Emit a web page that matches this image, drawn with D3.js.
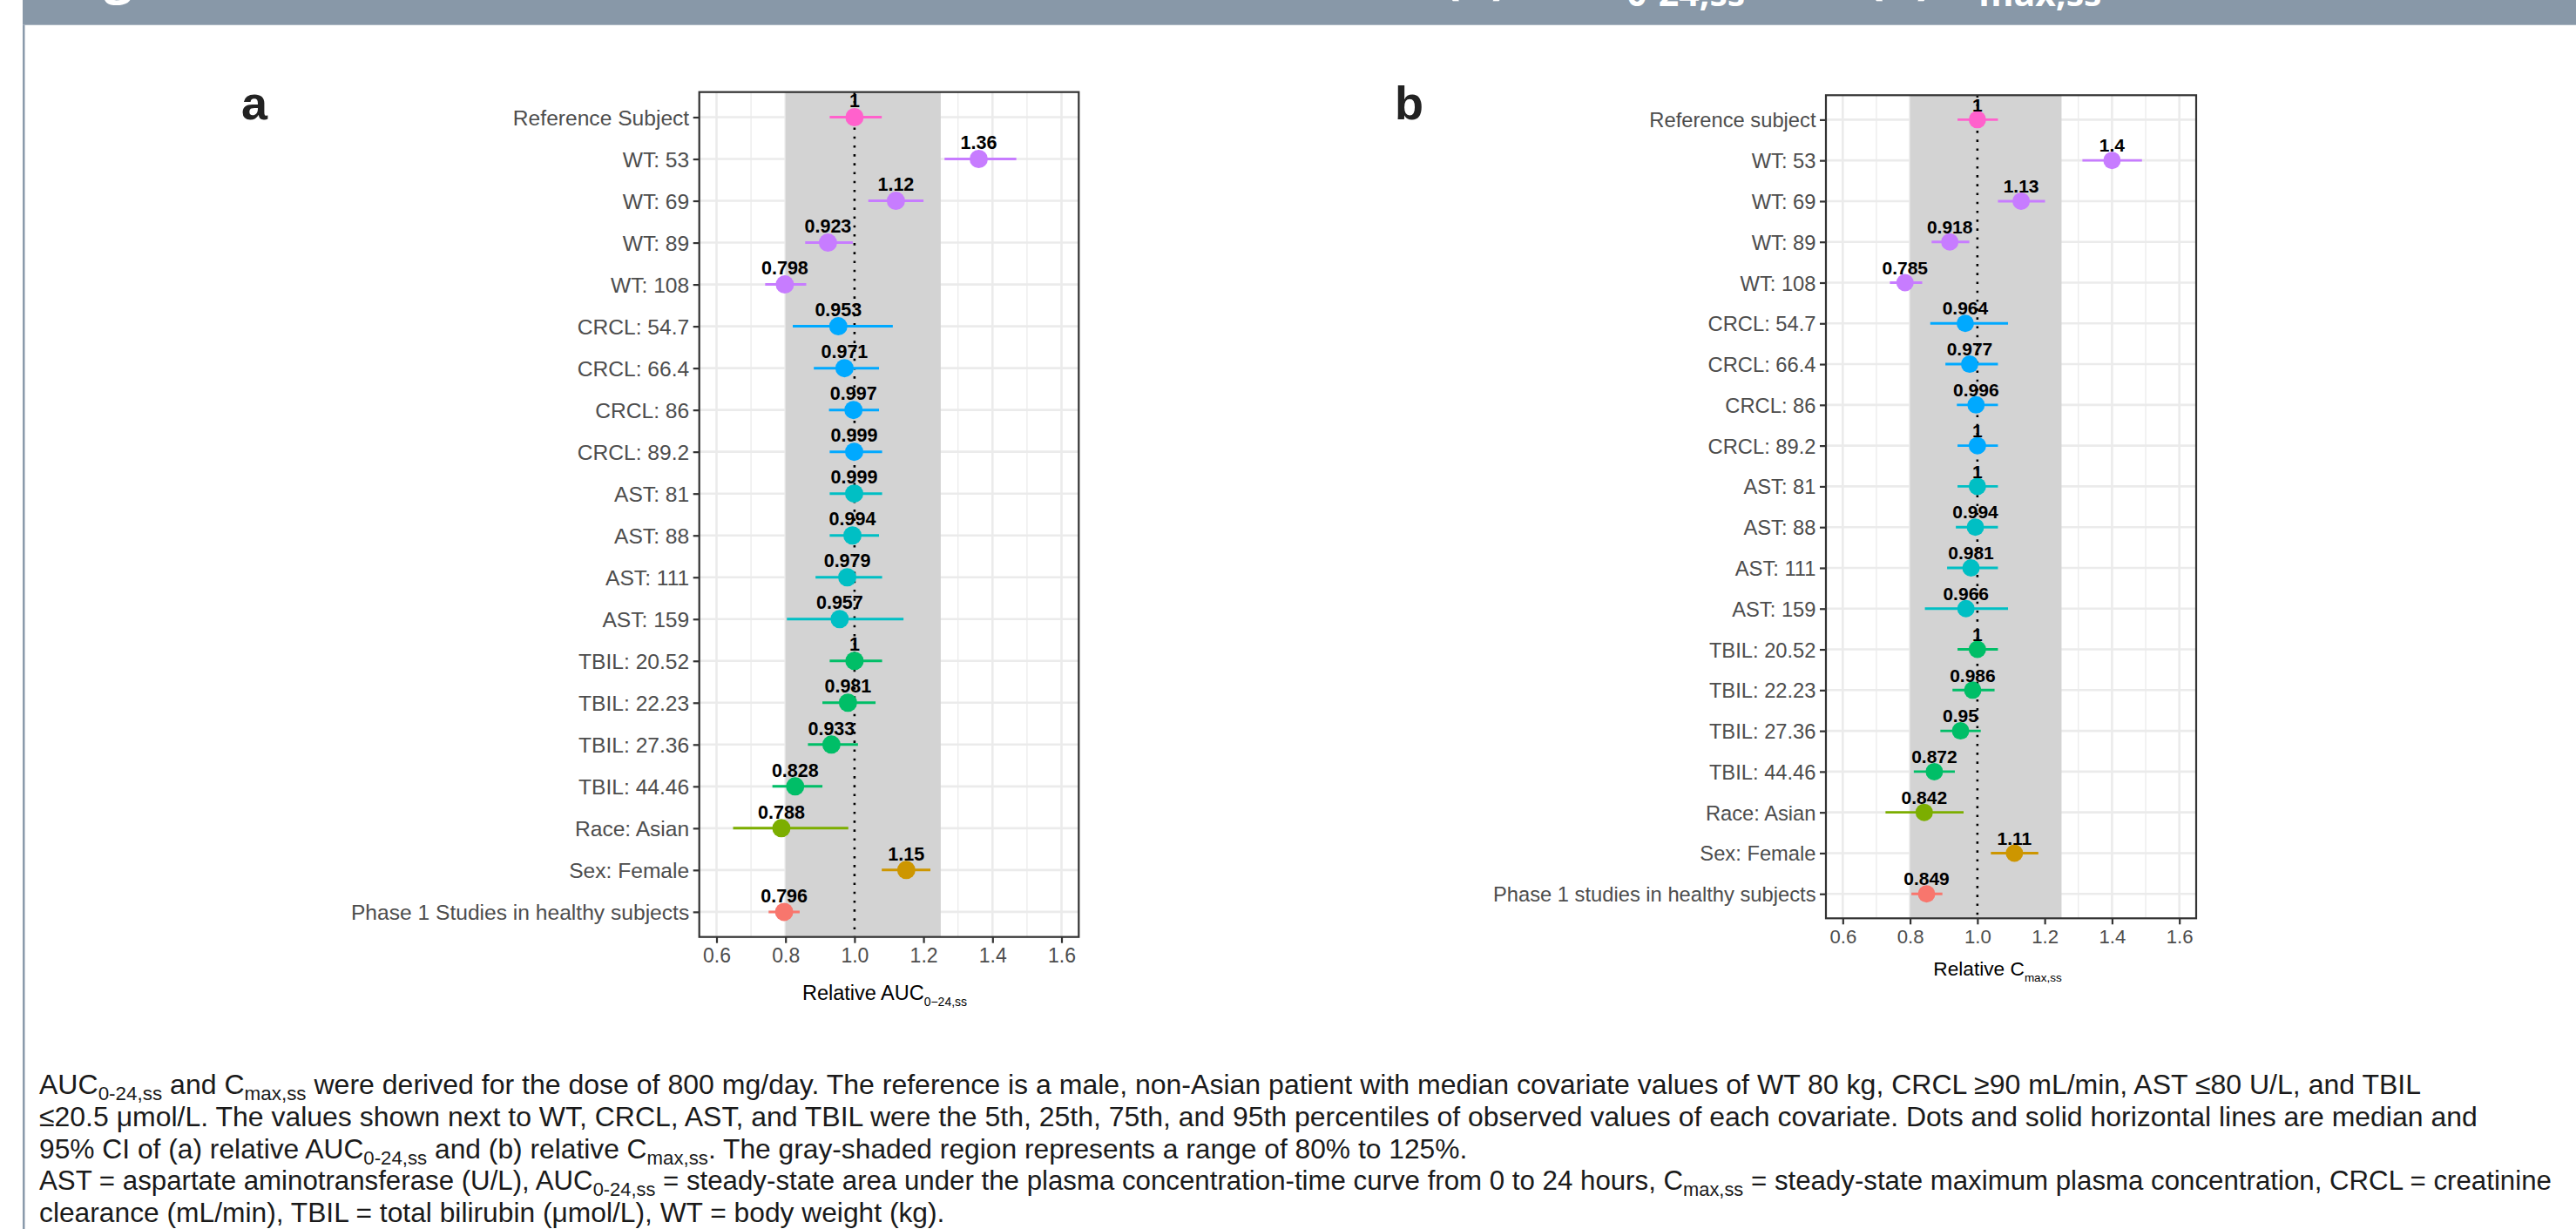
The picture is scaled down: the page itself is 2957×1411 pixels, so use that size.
<!DOCTYPE html>
<html><head><meta charset="utf-8">
<script src="https://cdn.jsdelivr.net/npm/d3@7"></script>
<style>html,body{margin:0;padding:0;background:#fff;overflow:hidden}</style>
</head><body>
<svg id="fig" width="2957" height="1411" xmlns="http://www.w3.org/2000/svg"></svg>
<script>
// ---------------- DATA ----------------
const categoriesA = ["Reference Subject","WT: 53","WT: 69","WT: 89","WT: 108","CRCL: 54.7","CRCL: 66.4","CRCL: 86","CRCL: 89.2","AST: 81","AST: 88","AST: 111","AST: 159","TBIL: 20.52","TBIL: 22.23","TBIL: 27.36","TBIL: 44.46","Race: Asian","Sex: Female","Phase 1 Studies in healthy subjects"];
const categoriesB = ["Reference subject","WT: 53","WT: 69","WT: 89","WT: 108","CRCL: 54.7","CRCL: 66.4","CRCL: 86","CRCL: 89.2","AST: 81","AST: 88","AST: 111","AST: 159","TBIL: 20.52","TBIL: 22.23","TBIL: 27.36","TBIL: 44.46","Race: Asian","Sex: Female","Phase 1 studies in healthy subjects"];
const covariateGroup = ["Reference","WT","WT","WT","WT","CRCL","CRCL","CRCL","CRCL","AST","AST","AST","AST","TBIL","TBIL","TBIL","TBIL","Race","Sex","Phase1"];

const medianAUC = [1,1.36,1.12,0.923,0.798,0.953,0.971,0.997,0.999,0.999,0.994,0.979,0.957,1,0.981,0.933,0.828,0.788,1.15,0.796];
const lowerAUC  = [0.928,1.261,1.040,0.857,0.741,0.821,0.882,0.926,0.928,0.928,0.928,0.887,0.804,0.928,0.907,0.865,0.762,0.648,1.079,0.751];
const upperAUC  = [1.079,1.469,1.200,0.995,0.860,1.111,1.071,1.071,1.080,1.080,1.071,1.080,1.142,1.080,1.061,1.010,0.907,0.982,1.220,0.841];

const medianCmax = [1,1.4,1.13,0.918,0.785,0.964,0.977,0.996,1,1,0.994,0.981,0.966,1,0.986,0.95,0.872,0.842,1.11,0.849];
const lowerCmax  = [0.941,1.312,1.061,0.864,0.740,0.860,0.905,0.939,0.941,0.941,0.936,0.910,0.844,0.941,0.926,0.890,0.811,0.727,1.040,0.804];
const upperCmax  = [1.061,1.489,1.201,0.976,0.836,1.091,1.061,1.061,1.061,1.061,1.061,1.061,1.091,1.061,1.051,1.010,0.933,0.959,1.181,0.896];

const xDomain = [0.55, 1.65];
const xTicks = [0.6,0.8,1.0,1.2,1.4,1.6];
const xMinorTicks = [0.7,0.9,1.1,1.3,1.5];
const xTickLabels = ["0.6","0.8","1.0","1.2","1.4","1.6"];
const shadeRange = [0.8, 1.25];
const refLine = 1;

const groupNames  = ["Reference","WT","CRCL","AST","TBIL","Race","Sex","Phase1"];
const groupColors = ["#FF61CC","#C77CFF","#00A9FF","#00BFC4","#00BE67","#7CAE00","#CD9600","#F8766D"];

// ---------------- LAYOUT ----------------
const svg = d3.select("#fig");
const FONT = "'Liberation Sans', Arial, Helvetica, sans-serif";
const color = d3.scaleOrdinal().domain(groupNames).range(groupColors);

// header band and left rule
svg.append("rect").attr("x",26).attr("y",0).attr("width",2957-26).attr("height",28.7).attr("fill","#8898a8");
svg.append("rect").attr("x",26).attr("y",28.7).attr("width",2.5).attr("height",1411-28.7).attr("fill","#8a9aab");

// header title (cut off at the top edge, as in the source)
const ht = svg.append("text").attr("fill","#fff").attr("font-family","'Open Sans', 'Liberation Sans', sans-serif")
  .attr("font-weight",700).attr("font-size",58);
ht.append("tspan").attr("x",70).attr("y",-8).text("Figure 4");
ht.append("tspan").attr("x",1657).attr("y",-8).text("(a) AUC");
ht.append("tspan").attr("font-size",41).attr("dy",15).text("0-24,ss");
ht.append("tspan").attr("dy",-15).text(" and (b) C");
ht.append("tspan").attr("font-size",41).attr("dy",15).text("max,ss");

function fmt(v){ return String(+v.toPrecision(3)); }

function drawPanel(cfg){
  const g = svg.append("g");
  const x = d3.scaleLinear().domain(xDomain).range([cfg.left, cfg.right]);
  const y = d3.scalePoint().domain(cfg.categories).range([cfg.top, cfg.bottom]).padding(0.6);
  const fs = cfg.fs;

  // grid
  g.selectAll(".minor").data(xMinorTicks).join("line")
    .attr("x1",d=>x(d)).attr("x2",d=>x(d)).attr("y1",cfg.top).attr("y2",cfg.bottom)
    .attr("stroke","#ebebeb").attr("stroke-width",1.3);
  g.selectAll(".major").data(xTicks).join("line")
    .attr("x1",d=>x(d)).attr("x2",d=>x(d)).attr("y1",cfg.top).attr("y2",cfg.bottom)
    .attr("stroke","#ebebeb").attr("stroke-width",2.6);
  g.selectAll(".hgrid").data(cfg.categories).join("line")
    .attr("x1",cfg.left).attr("x2",cfg.right).attr("y1",d=>y(d)).attr("y2",d=>y(d))
    .attr("stroke","#ebebeb").attr("stroke-width",2.6);

  // shaded 80-125%
  g.append("rect").attr("x",x(shadeRange[0])).attr("width",x(shadeRange[1])-x(shadeRange[0]))
    .attr("y",cfg.top).attr("height",cfg.bottom-cfg.top).attr("fill","#d3d3d3");

  // dotted reference line
  g.append("line").attr("x1",x(refLine)).attr("x2",x(refLine)).attr("y1",cfg.top).attr("y2",cfg.bottom)
    .attr("stroke","#000").attr("stroke-width",2.6).attr("stroke-dasharray","2.6 7.6");

  const rows = cfg.categories.map((c,i)=>({c, grp:covariateGroup[i], m:cfg.median[i], lo:cfg.lower[i], hi:cfg.upper[i]}));

  // CI lines
  g.selectAll(".ci").data(rows).join("line")
    .attr("x1",d=>x(d.lo)).attr("x2",d=>x(d.hi)).attr("y1",d=>y(d.c)).attr("y2",d=>y(d.c))
    .attr("stroke",d=>color(d.grp)).attr("stroke-width",cfg.lw);
  // points
  g.selectAll(".pt").data(rows).join("circle")
    .attr("cx",d=>x(d.m)).attr("cy",d=>y(d.c)).attr("r",cfg.r).attr("fill",d=>color(d.grp));
  // value labels
  g.selectAll(".lab").data(rows).join("text")
    .attr("x",d=>x(d.m)).attr("y",d=>y(d.c)-cfg.labOff)
    .attr("text-anchor","middle").attr("font-family",FONT).attr("font-weight",700)
    .attr("font-size",cfg.labFs).attr("fill","#000").text(d=>fmt(d.m));

  // frame
  g.append("rect").attr("x",cfg.left).attr("y",cfg.top).attr("width",cfg.right-cfg.left)
    .attr("height",cfg.bottom-cfg.top).attr("fill","none").attr("stroke","#333").attr("stroke-width",2.2);

  // x axis
  const xa = g.append("g").attr("transform",`translate(0,${cfg.bottom})`)
    .call(d3.axisBottom(x).tickValues(xTicks).tickFormat((d,i)=>xTickLabels[i]).tickSize(7).tickPadding(6*fs));
  xa.select(".domain").remove();
  xa.selectAll("line").attr("stroke","#333").attr("stroke-width",2.2);
  xa.selectAll("text").attr("font-family",FONT).attr("font-size",23*fs).attr("fill","#4d4d4d");

  // y axis
  const ya = g.append("g").attr("transform",`translate(${cfg.left},0)`)
    .call(d3.axisLeft(y).tickSize(7).tickPadding(4.5));
  ya.select(".domain").remove();
  ya.selectAll("line").attr("stroke","#333").attr("stroke-width",2.2);
  ya.selectAll("text").attr("font-family",FONT).attr("font-size",24.6*fs).attr("fill","#4d4d4d").attr("dy","0.36em");

  // axis title
  const t = g.append("text").attr("x",(cfg.left+cfg.right)/2 + cfg.titleDx).attr("y",cfg.bottom + cfg.titleDy)
    .attr("text-anchor","middle").attr("font-family",FONT).attr("font-size",23.5*fs).attr("fill","#000");
  t.append("tspan").text(cfg.titleMain);
  t.append("tspan").attr("font-size",14*fs).attr("dy",7).text(cfg.titleSub);

  // panel letter
  svg.append("text").attr("x",cfg.letterX).attr("y",137).attr("font-family",FONT).attr("font-weight",700)
    .attr("font-size",54).attr("fill","#222").text(cfg.letter);
}

drawPanel({categories:categoriesA, median:medianAUC, lower:lowerAUC, upper:upperAUC,
  left:802.7, right:1238.3, top:105.7, bottom:1075.7, fs:1, r:10.5, lw:3, labOff:11.3, labFs:21.5,
  titleMain:"Relative AUC", titleSub:"0\u221224,ss", titleDx:-5, titleDy:72, letter:"a", letterX:277});
drawPanel({categories:categoriesB, median:medianCmax, lower:lowerCmax, upper:upperCmax,
  left:2096, right:2521, top:109.3, bottom:1054.3, fs:0.965, r:10, lw:2.9, labOff:9.8, labFs:21,
  titleMain:"Relative C", titleSub:"max,ss", titleDx:-15.5, titleDy:65.7, letter:"b", letterX:1601});

// ---------------- CAPTION ----------------
const captionLines = [
  [["AUC",0],["0-24,ss",1],[" and C",0],["max,ss",1],[" were derived for the dose of 800 mg/day. The reference is a male, non-Asian patient with median covariate values of WT 80 kg, CRCL \u226590 mL/min, AST \u226480 U/L, and TBIL",0]],
  [["\u226420.5 \u03bcmol/L. The values shown next to WT, CRCL, AST, and TBIL were the 5th, 25th, 75th, and 95th percentiles of observed values of each covariate. Dots and solid horizontal lines are median and",0]],
  [["95% CI of (a) relative AUC",0],["0-24,ss",1],[" and (b) relative C",0],["max,ss",1],[". The gray-shaded region represents a range of 80% to 125%.",0]],
  [["AST = aspartate aminotransferase (U/L), AUC",0],["0-24,ss",1],[" = steady-state area under the plasma concentration-time curve from 0 to 24 hours, C",0],["max,ss",1],[" = steady-state maximum plasma concentration, CRCL = creatinine",0]],
  [["clearance (mL/min), TBIL = total bilirubin (\u03bcmol/L), WT = body weight (kg).",0]]
];
// right ends of the full-width lines in the source (null = short line)
const captionTargetWidth = [2735, 2800, null, 2885, null];
const capG = svg.append("g");
function drawLine(i, fs){
  const parts = captionLines[i];
  const t = capG.append("text").attr("x",45).attr("y",1256 + i*36.8)
    .attr("font-family",FONT).attr("font-size",fs).attr("fill","#1a1a1a");
  let sub = false;
  parts.forEach(([s,isSub])=>{
    const ts = t.append("tspan").text(s);
    if(isSub && !sub){ ts.attr("font-size",fs*0.7).attr("dy",fs*0.22); sub=true; }
    else if(!isSub && sub){ ts.attr("dy",-fs*0.22); sub=false; }
    else if(isSub){ ts.attr("font-size",fs*0.7); }
  });
  return t;
}
const baseFs = 29;
const fits = [];
captionLines.forEach((_,i)=>{
  const t = drawLine(i, baseFs);
  const w = t.node().getComputedTextLength();
  if (captionTargetWidth[i] && w > 0) fits[i] = Math.max(24, Math.min(34, baseFs*captionTargetWidth[i]/w));
  t.remove();
});
const known = fits.filter(v=>v);
const meanFs = known.length ? d3.mean(known) : baseFs;
captionLines.forEach((_,i)=> drawLine(i, fits[i] || meanFs));
</script>
</body></html>
